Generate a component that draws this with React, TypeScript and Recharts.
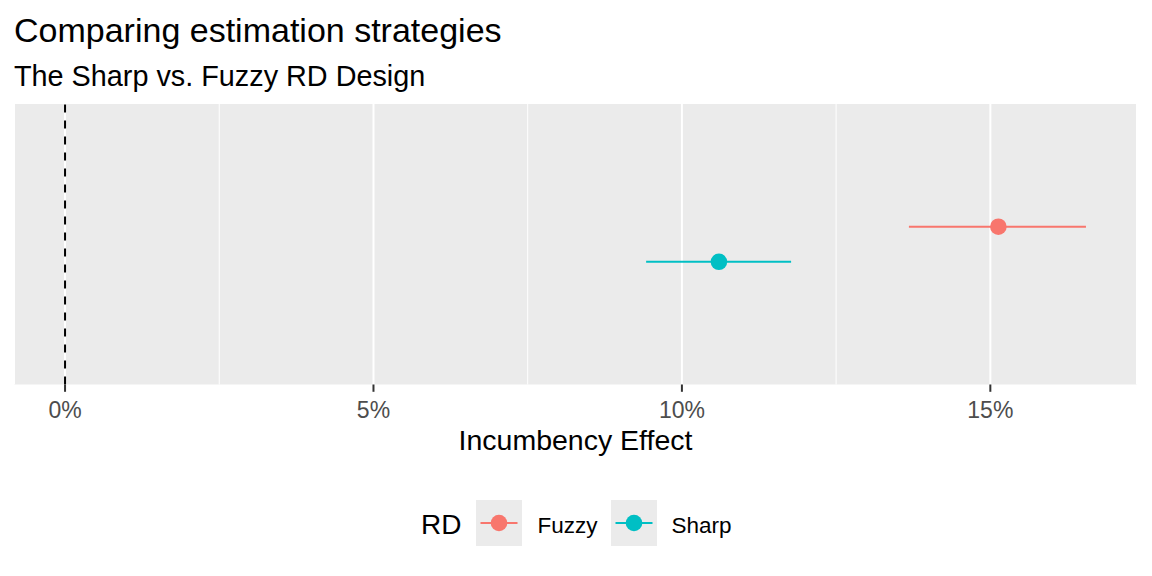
import { ScatterChart, Scatter, XAxis, YAxis, CartesianGrid, ReferenceLine, ErrorBar } from "recharts";

const designs = ["Fuzzy", "Sharp"];
const estimates = [15.13, 10.6];
const lowerCI = [13.68, 9.42];
const upperCI = [16.55, 11.77];
const colors = ["#F8766D", "#00BFC4"];
const xTicks = [0, 5, 10, 15];
const minorTicks = [2.5, 7.5, 12.5];

const FONT = "'Liberation Sans', Arial, sans-serif";
const W = 1152;
const H = 576;
const DODGE = 0.075;

// ggplot-like expansion of 5% around the data (the 0 line is included)
const lo = Math.min(0, ...lowerCI);
const hi = Math.max(...upperCI);
const pad = (hi - lo) * 0.05;
const xDomain = [lo - pad, hi + pad];

const seriesData = designs.map((name, i) => [
  {
    name,
    x: estimates[i],
    y: 1 + (i === 0 ? DODGE : -DODGE),
    err: [estimates[i] - lowerCI[i], upperCI[i] - estimates[i]],
  },
]);

const Dot = (color: string) => (props: any) => (
  <circle cx={props.cx} cy={props.cy} r={8.3} fill={color} />
);

const App = () => {
  return (
    <div style={{ position: "absolute", left: 0, top: 0, width: W, height: H, background: "#fff" }}>
      <ScatterChart
        width={W}
        height={H}
        margin={{ top: 104, right: 15, left: 14, bottom: 111.5 }}
      >
        <CartesianGrid
          horizontal={false}
          stroke="#ffffff"
          strokeWidth={2}
          fill="#EBEBEB"
          fillOpacity={1}
        />
        {minorTicks.map((m) => (
          <ReferenceLine key={m} x={m} stroke="#ffffff" strokeWidth={1} />
        ))}
        <ReferenceLine x={0} stroke="#000000" strokeWidth={2} strokeDasharray="8 8" />
        <XAxis
          dataKey="x"
          type="number"
          domain={xDomain}
          allowDataOverflow
          ticks={xTicks}
          interval={0}
          tickFormatter={(v) => `${v}%`}
          axisLine={false}
          tickLine={{ stroke: "#333333", strokeWidth: 2 }}
          tickSize={7.3}
          tickMargin={10}
          tick={{ fill: "#4D4D4D", fontSize: 23, fontFamily: FONT }}
          height={80}
          label={{
            value: "Incumbency Effect",
            position: "insideBottom",
            offset: 15,
            fill: "#000000",
            fontSize: 28.5,
            fontFamily: FONT,
          }}
        />
        <YAxis dataKey="y" type="number" domain={[0.4, 1.6]} hide allowDataOverflow />
        {seriesData.map((d, i) => (
          <Scatter
            key={designs[i]}
            name={designs[i]}
            data={d}
            fill={colors[i]}
            shape={Dot(colors[i])}
            isAnimationActive={false}
          >
            <ErrorBar
              dataKey="err"
              direction="x"
              width={0}
              stroke={colors[i]}
              strokeWidth={2}
              isAnimationActive={false}
            />
          </Scatter>
        ))}
      </ScatterChart>
      <svg
        width={W}
        height={H}
        style={{ position: "absolute", left: 0, top: 0, pointerEvents: "none" }}
        fontFamily={FONT}
      >
        <text x={14} y={42} fontSize={34} fill="#000">
          Comparing estimation strategies
        </text>
        <text x={14} y={86} fontSize={28.8} fill="#000">
          The Sharp vs. Fuzzy RD Design
        </text>
        <text x={421} y={534} fontSize={28} fill="#000">
          RD
        </text>
        {designs.map((name, i) => {
          const kx = 476 + i * 135;
          const tx = 537.5 + i * 134;
          return (
            <g key={name}>
              <rect x={kx} y={500} width={46} height={46} fill="#EBEBEB" />
              <line x1={kx + 4.5} x2={kx + 41.5} y1={523} y2={523} stroke={colors[i]} strokeWidth={2} />
              <circle cx={kx + 23} cy={523} r={8.3} fill={colors[i]} />
              <text x={tx} y={532.5} fontSize={22.5} fill="#000">
                {name}
              </text>
            </g>
          );
        })}
      </svg>
    </div>
  );
};

export default App;
